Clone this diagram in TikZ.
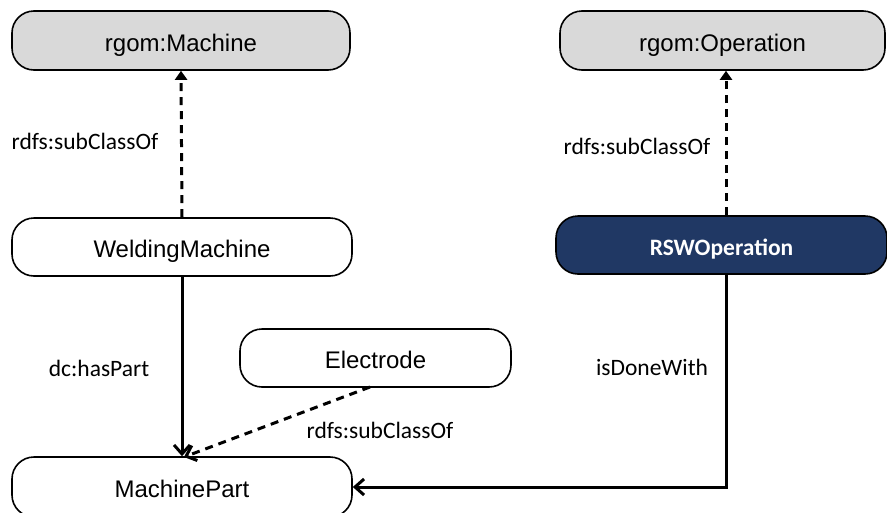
\documentclass[tikz,border=0pt]{standalone}
\usepackage{fontspec}
\setmainfont{Liberation Sans}
\newfontfamily\labelfont{Carlito}
\usetikzlibrary{arrows.meta}
\definecolor{boxgray}{HTML}{D9D9D9}
\definecolor{navy}{HTML}{203864}
\tikzset{
  cls/.style={draw=black, line width=1.6pt, rounded corners=22pt, font=\fontsize{24}{26}\selectfont, inner sep=0pt, text height=21pt, text depth=0pt},
  graycls/.style={cls, fill=boxgray},
  navycls/.style={cls, fill=navy, text=white, font=\labelfont\bfseries\fontsize{23.5}{26}\selectfont},
  lbl/.style={font=\labelfont\fontsize{23.5}{26}\selectfont, inner sep=0pt},
  subcls/.style={line width=3pt, dash pattern=on 8pt off 6pt, -{Triangle[length=9pt,width=12pt]}},
  rel/.style={line width=3pt, -{Straight Barb[length=9pt,width=16pt,line width=3pt]}},
  subclsopen/.style={line width=3pt, dash pattern=on 8pt off 6pt, -{Straight Barb[length=9pt,width=16pt,line width=3pt]}}
}
\begin{document}
\begin{tikzpicture}[x=1pt,y=-1pt]
\useasboundingbox (0,0) rectangle (887,512);
\clip (0,0) rectangle (887,512);
\node[graycls, minimum width=338pt, minimum height=59pt] (mach) at (181,40.5) {rgom:Machine};
\node[graycls, minimum width=325pt, minimum height=59pt] (oper) at (722.5,40.5) {rgom:Operation};
\node[cls, fill=white, minimum width=340pt, minimum height=58pt] (weld) at (182,247) {WeldingMachine};
\node[navycls, minimum width=331pt, minimum height=58pt] (rsw) at (721.5,245) {RSWOperation};
\node[cls, fill=white, minimum width=271pt, minimum height=58pt] (elec) at (375.5,358) {Electrode};
\node[cls, fill=white, minimum width=340pt, minimum height=60pt] (mpart) at (182,487) {MachinePart};

\coordinate (eltail) at (370,387);
\coordinate (mptop) at (184,457);
\coordinate (rx) at (726,0);

\draw[subcls] (weld.north) -- (mach.south);
\draw[subcls] (rx |- rsw.north) -- (rx |- oper.south);
\draw[rel] (weld.south) -- (mpart.north);
\draw[subclsopen] (eltail) -- (mptop);
\draw[rel] (rx |- rsw.south) -- (rx |- mpart.east) -- (mpart.east);

\node[lbl] (l1) at (85,141) {rdfs:subClassOf};
\node[lbl] (l2) at (637,146) {rdfs:subClassOf};
\node[lbl] (l3) at (99,368) {dc:hasPart};
\node[lbl] (l4) at (652,367) {isDoneWith};
\node[lbl] (l5) at (380,430) {rdfs:subClassOf};
\end{tikzpicture}
\end{document}
